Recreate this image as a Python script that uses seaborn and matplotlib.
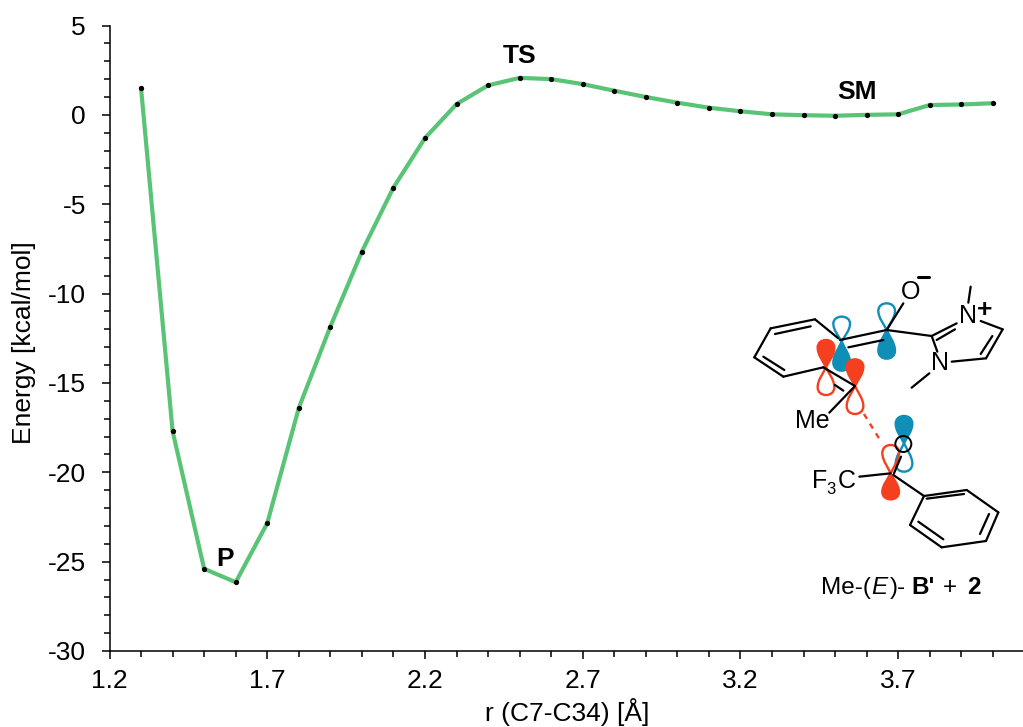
"""Energy profile along r(C7-C34) with the Me-(E)-B' + 2 structure as an inset."""

import matplotlib.pyplot as plt
import seaborn as sns
from matplotlib.patches import Circle, PathPatch
from matplotlib.path import Path
from matplotlib.ticker import MultipleLocator

r_values = [1.3, 1.4, 1.5, 1.6, 1.7, 1.8, 1.9, 2.0, 2.1, 2.2, 2.3, 2.4, 2.5, 2.6,
            2.7, 2.8, 2.9, 3.0, 3.1, 3.2, 3.3, 3.4, 3.5, 3.6, 3.7, 3.8, 3.9, 4.0]
energy = [1.5, -17.7, -25.4, -26.15, -22.85, -16.4, -11.85, -7.65, -4.07, -1.3, 0.6, 1.65,
          2.07, 2.0, 1.72, 1.35, 1.0, 0.68, 0.4, 0.2, 0.03, -0.02, -0.05, 0.0, 0.03, 0.55,
          0.58, 0.65]
x_ticks = [1.2, 1.7, 2.2, 2.7, 3.2, 3.7]
y_ticks = [5, 0, -5, -10, -15, -20, -25, -30]

GREEN = "#5ac476"
RED = "#f4401f"
BLUE = "#0f8fb8"
FONT = 19

# structure drawing, in 3x crop coordinates of the inset box
bonds = [
    ((43, 292), (92, 205)), ((92, 205), (225, 178)), ((225, 178), (295, 235)),
    ((250, 322), (130, 350)), ((130, 350), (43, 292)), ((105, 222), (212, 199)),
    ((70, 290), (133, 330)), ((250, 322), (345, 378)), ((285, 375), (310, 392)),
    ((300, 240), (440, 210)), ((325, 262), (430, 240)), ((440, 210), (575, 228)),
    ((440, 210), (490, 130)), ((575, 228), (650, 190)), ((590, 240), (645, 208)),
    ((692, 80), (685, 128)), ((722, 183), (788, 208)), ((788, 208), (738, 295)),
    ((757, 228), (722, 282)), ((738, 295), (635, 305)), ((575, 228), (592, 275)),
    ((568, 340), (515, 383)), ((345, 378), (268, 458)), ((483, 590), (462, 640)),
    ((358, 650), (452, 640)), ((460, 645), (552, 708)), ((552, 708), (680, 690)),
    ((680, 690), (775, 757)), ((775, 757), (738, 843)), ((738, 843), (605, 862)),
    ((605, 862), (510, 795)), ((510, 795), (552, 708)), ((560, 716), (672, 702)),
    ((747, 762), (720, 822)), ((610, 838), (535, 785)),
]
# node x, node y, tip above, tip below, filled lobe, colour
orbitals = [
    (305, 245, 170, 332, "bottom", BLUE),
    (440, 210, 130, 296, "bottom", BLUE),
    (258, 322, 240, 405, "top", RED),
    (345, 378, 298, 462, "top", RED),
    (492, 550, 468, 635, "top", BLUE),
    (452, 640, 555, 718, "bottom", RED),
]


def lobe_path(x, y, tip, w):
    """Teardrop from the node (x, y) to the tip height, half width w."""
    d = tip - y
    verts = [(x, y),
             (x - 0.3 * w, y + 0.2 * d), (x - w, y + 0.45 * d), (x - w, y + 0.72 * d),
             (x - w, y + 0.9 * d), (x - 0.55 * w, tip), (x, tip),
             (x + 0.55 * w, tip), (x + w, y + 0.9 * d), (x + w, y + 0.72 * d),
             (x + w, y + 0.45 * d), (x + 0.3 * w, y + 0.2 * d), (x, y)]
    codes = [Path.MOVETO] + [Path.CURVE4] * 12
    return Path(verts, codes)


def draw_structure(ax):
    for (x, y, top, bottom, filled, color) in orbitals:
        for tip, name in ((top, "top"), (bottom, "bottom")):
            solid = name == filled
            ax.add_patch(PathPatch(lobe_path(x, y, tip, 25), lw=1.7, edgecolor=color,
                                   facecolor=color if solid else "none", zorder=2))
    for (a, b) in bonds:
        ax.plot([a[0], b[0]], [a[1], b[1]], color="black", lw=1.6, zorder=3,
                solid_capstyle="round")
    ax.plot([372, 425], [462, 548], color=RED, lw=1.7, dashes=(2.4, 2.4), zorder=3)
    ax.add_patch(Circle((490, 552), 24, fill=False, edgecolor="black", lw=1.4, zorder=3))

    labels = [("O", 511, 95), ("N", 685, 168), ("N", 600, 310), ("Me", 216, 482)]
    for text, x, y in labels:
        ax.text(x, y, text, fontsize=18, ha="center", va="center", color="black", zorder=4)
    ax.text(733, 150, "+", fontsize=19, fontweight="bold", ha="center", va="center",
            color="black")
    ax.plot([533, 567], [50, 50], color="black", lw=2.2)
    ax.text(215, 685, "F", fontsize=18, ha="left", va="baseline", color="black")
    ax.text(260, 702, "3", fontsize=12, ha="left", va="baseline", color="black")
    ax.text(293, 685, "C", fontsize=18, ha="left", va="baseline", color="black")

    # caption pieces: Me-(E)-B' + 2
    caption = [("Me-(", 243, "normal", "normal"), ("E", 393, "normal", "italic"),
               (")-", 451, "normal", "normal"), ("B'", 513, "bold", "normal"),
               ("+", 610, "normal", "normal"), ("2", 680, "bold", "normal")]
    for text, x, weight, style in caption:
        ax.text(x, 1003, text, fontsize=17.5, fontweight=weight, fontstyle=style,
                ha="left", va="baseline", color="black")


def main():
    sns.set_theme(style="ticks")
    plt.rcParams["font.family"] = ["Liberation Sans", "DejaVu Sans"]
    plt.rcParams["axes.unicode_minus"] = False

    fig = plt.figure(figsize=(10.23, 7.27), dpi=100)
    ax = fig.add_axes([109.5 / 1023, 1 - 651 / 727, (1022.5 - 109.5) / 1023, (651 - 25.5) / 727])

    sns.lineplot(x=r_values, y=energy, color=GREEN, lw=3, ax=ax, zorder=2,
                 marker="o", markersize=3.8, markerfacecolor="black", markeredgecolor="black",
                 markeredgewidth=0, estimator=None, sort=False)

    ax.set_xlim(1.2, 4.094)
    ax.set_ylim(-30, 5)
    ax.set_xticks(x_ticks)
    ax.set_yticks(y_ticks)
    ax.xaxis.set_minor_locator(MultipleLocator(0.1))
    ax.yaxis.set_minor_locator(MultipleLocator(1))
    ax.tick_params(axis="both", which="major", length=5.6, width=1.1, labelsize=FONT,
                   color="black", labelcolor="black")
    ax.tick_params(axis="both", which="minor", length=4.2, width=1.1, color="black")
    ax.tick_params(axis="x", which="major", pad=7.5)
    ax.tick_params(axis="y", which="major", pad=11.5)
    for side in ("left", "bottom"):
        ax.spines[side].set_linewidth(1.1)
        ax.spines[side].set_color("black")
    ax.spines["top"].set_visible(False)
    ax.spines["right"].set_visible(False)

    ax.set_xticklabels([f"{t:.1f}" for t in x_ticks])
    fig.text(567 / 1023, 1 - 712 / 727, "r (C7-C34) [Å]", fontsize=FONT, ha="center",
             va="center", color="black")
    fig.text(24 / 1023, 1 - 343 / 727, "Energy [kcal/mol]", fontsize=FONT, rotation=90,
             ha="center", va="center", color="black")

    for text, x, y in (("TS", 2.5, 3.3), ("SM", 3.57, 1.3), ("P", 1.566, -24.85)):
        ax.text(x, y, text, fontsize=FONT, fontweight="bold", ha="center", va="center",
                color="black")

    inset = fig.add_axes([740 / 1023, 1 - 610 / 727, 283 / 1023, 350 / 727])
    inset.set_xlim(0, 849)
    inset.set_ylim(1050, 0)
    inset.axis("off")
    draw_structure(inset)

    fig.savefig("out.png", dpi=100)


if __name__ == "__main__":
    main()
